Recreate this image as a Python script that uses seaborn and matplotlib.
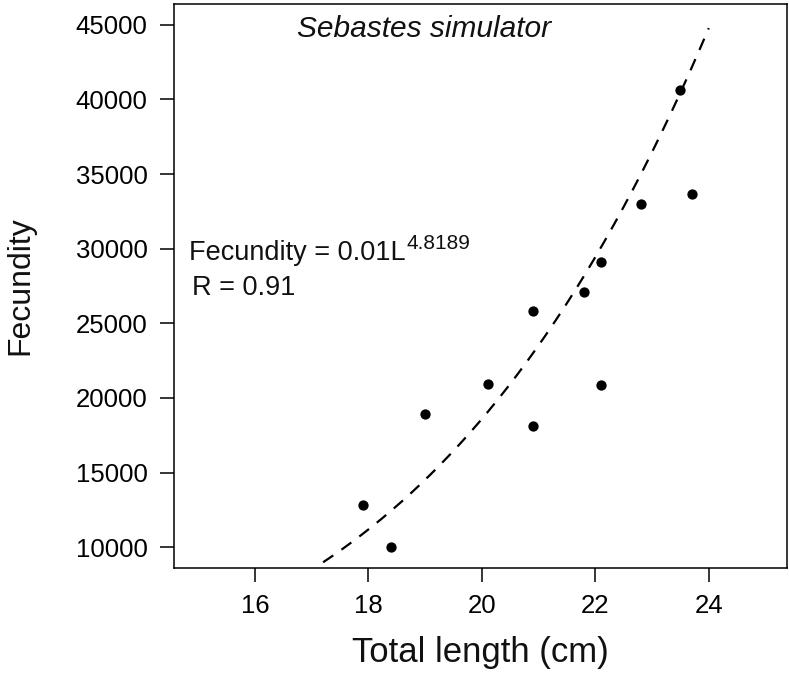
import numpy as np
import pandas as pd
import matplotlib
matplotlib.use("Agg")
import matplotlib.pyplot as plt
import seaborn as sns

# Data
total_length = [17.9, 18.4, 19.0, 20.1, 20.9, 20.9, 21.8, 22.1, 22.1, 22.8, 23.5, 23.7]
fecundity = [12850, 10000, 18950, 20950, 25850, 18100, 27100, 29100, 20850, 33000, 40650, 33700]

# Fitted power curve shown in the chart: Fecundity = 0.01 L^4.8189
fit_a = 0.01
fit_b = 4.8189
fit_range = [17.2, 24.0]

x_ticks = [16, 18, 20, 22, 24]
y_ticks = [10000, 15000, 20000, 25000, 30000, 35000, 40000, 45000]

sns.set_theme(style="ticks")
plt.rcParams["font.family"] = ["Liberation Sans", "DejaVu Sans"]

fig = plt.figure(figsize=(7.89, 6.87), dpi=100)
ax = fig.add_axes([0.2205, 0.1737, 0.777, 0.8205])

df = pd.DataFrame({"L": total_length, "F": fecundity})
sns.scatterplot(data=df, x="L", y="F", ax=ax, color="black", s=55,
                edgecolor="black", linewidth=0, zorder=3)

fx = np.linspace(fit_range[0], fit_range[1], 200)
fit_df = pd.DataFrame({"L": fx, "F": fit_a * fx ** fit_b})
sns.lineplot(data=fit_df, x="L", y="F", ax=ax, color="black", lw=1.6,
             linestyle=(0, (5.5, 4.5)), zorder=2)

ax.set_xlim(14.57, 25.38)
ax.set_ylim(8630, 46400)
ax.set_xticks(x_ticks)
ax.set_xticklabels([str(v) for v in x_ticks])
ax.set_yticks(y_ticks)
ax.set_yticklabels([str(v) for v in y_ticks])

for sp in ax.spines.values():
    sp.set_visible(True)
    sp.set_color("black")
    sp.set_linewidth(1.1)

ax.tick_params(axis="both", direction="out", length=10, width=1.1,
               colors="black", labelsize=18.5, pad=9)

ax.set_xlabel("Total length (cm)", fontsize=25, color="#111111")
ax.set_ylabel("Fecundity", fontsize=23, color="#111111")
ax.xaxis.set_label_coords(0.5, -0.1205)
ax.yaxis.set_label_coords(-0.226, 0.5)

ax.text(0.408, 0.941, "Sebastes simulator", transform=ax.transAxes,
        ha="center", va="baseline", fontsize=21.5, style="italic", color="#111111")
base = ax.text(0.0245, 0.546, "Fecundity = 0.01L", transform=ax.transAxes,
               ha="left", va="baseline", fontsize=19.5, color="#111111")
ax.annotate("4.8189", xy=(1, 0), xycoords=base, xytext=(0.8, 12.0),
            textcoords="offset points", ha="left", va="baseline",
            fontsize=15, color="#111111")
ax.text(0.0289, 0.4838, "R = 0.91", transform=ax.transAxes,
        ha="left", va="baseline", fontsize=19.5, color="#111111")

fig.savefig("out.png", dpi=100)
